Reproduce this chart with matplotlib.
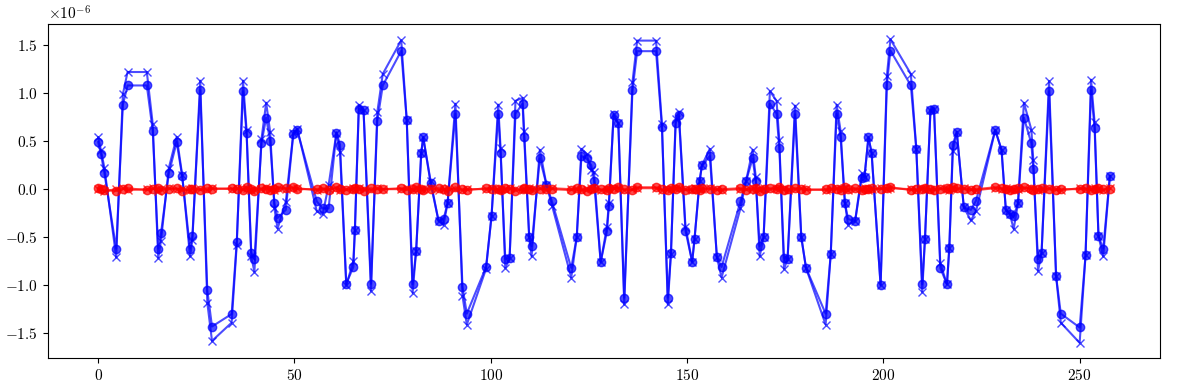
import matplotlib
matplotlib.use("Agg")
import matplotlib.pyplot as plt
import numpy as np

plt.rcParams["font.family"] = "serif"
plt.rcParams["font.serif"] = ["cmr10"]
plt.rcParams["mathtext.fontset"] = "cm"
plt.rcParams["axes.formatter.use_mathtext"] = True
plt.rcParams["font.size"] = 11

# sample positions
x = [0.0, 0.7, 1.6, 4.6, 6.3, 7.5, 12.4, 13.9, 15.3, 16.0,
     18.0, 20.0, 21.4, 23.4, 24.0, 26.0, 27.8, 29.0, 34.0, 35.3,
     36.9, 37.8, 39.0, 39.8, 41.6, 42.8, 43.8, 44.9, 45.7, 47.8,
     49.7, 50.7, 55.7, 57.2, 58.7, 60.7, 61.6, 63.2, 65.0, 65.4,
     66.4, 67.6, 69.5, 71.1, 72.5, 77.2, 78.6, 80.1, 81.0, 82.3,
     82.8, 84.7, 86.7, 88.0, 89.0, 91.0, 92.8, 93.9, 98.8, 100.2,
     101.9, 102.5, 103.7, 104.8, 106.3, 108.1, 108.5, 109.8, 110.4, 112.5,
     114.2, 115.6, 120.5, 121.9, 123.1, 124.4, 125.6, 126.3, 128.0, 129.6,
     130.1, 131.3, 132.5, 134.0, 136.1, 137.3, 142.1, 143.6, 145.1, 145.9,
     147.1, 147.9, 149.6, 151.3, 151.9, 153.2, 153.8, 155.8, 157.6, 158.8,
     163.6, 165.0, 166.7, 167.5, 168.5, 169.5, 171.1, 172.8, 173.5, 174.7,
     175.6, 177.5, 179.1, 180.3, 185.3, 186.6, 188.1, 189.1, 190.2, 191.0,
     192.8, 194.5, 195.2, 196.2, 197.0, 199.3, 200.9, 201.8, 207.0, 208.4,
     209.9, 210.6, 212.0, 212.9, 214.5, 216.2, 216.8, 217.7, 218.7, 220.5,
     222.3, 223.6, 228.5, 230.1, 231.2, 232.2, 233.2, 234.3, 235.8, 237.7,
     238.2, 239.4, 240.3, 242.2, 244.0, 245.2, 250.0, 251.5, 252.9, 253.8,
     254.8, 256.0, 257.7]

# blue, circles (units of 1e-6)
blue_o = [0.49, 0.37, 0.165, -0.62, 0.88, 1.08, 1.08, 0.61, -0.62, -0.46,
          0.165, 0.49, 0.135, -0.62, -0.49, 1.03, -1.05, -1.43, -1.30, -0.55,
          1.02, 0.58, -0.66, -0.73, 0.48, 0.745, 0.50, -0.146, -0.30, -0.215,
          0.57, 0.615, -0.128, -0.20, -0.20, 0.59, 0.465, -0.985, -0.81, -0.42,
          0.84, 0.82, -0.985, 0.71, 1.08, 1.44, 0.72, -0.99, -0.64, 0.38,
          0.54, 0.06, -0.33, -0.31, -0.146, 0.787, -1.015, -1.296, -0.81, -0.28,
          0.78, 0.38, -0.726, -0.715, 0.787, 0.89, 0.545, -0.50, -0.595, 0.32,
          0.045, -0.128, -0.82, -0.50, 0.345, 0.32, 0.25, 0.09, -0.76, -0.44,
          -0.17, 0.777, 0.684, -1.13, 1.03, 1.437, 1.437, 0.649, -1.13, -0.664,
          0.684, 0.777, -0.432, -0.757, -0.52, 0.086, 0.25, 0.345, -0.71, -0.81,
          -0.128, 0.08, 0.32, 0.086, -0.595, -0.497, 0.89, 0.787, 0.425, -0.715,
          -0.73, 0.78, -0.50, -0.82, -1.296, -0.675, 0.787, 0.545, -0.14, -0.31,
          -0.335, 0.12, 0.13, 0.54, 0.38, -0.999, 1.087, 1.443, 1.08, 0.416,
          -0.99, -0.52, 0.82, 0.84, -0.82, -0.99, -0.612, 0.465, 0.597, -0.19,
          -0.215, -0.12, 0.615, 0.41, -0.215, -0.256, -0.283, -0.146, 0.745, 0.476,
          0.207, -0.73, -0.664, 1.02, -0.905, -1.296, -1.44, -0.69, 1.03, 0.639,
          -0.49, -0.62, 0.138]

# blue, crosses
blue_x = [0.54, 0.41, 0.22, -0.71, 0.99, 1.22, 1.22, 0.68, -0.715, -0.54,
          0.22, 0.545, 0.15, -0.70, -0.53, 1.13, -1.18, -1.58, -1.39, -0.58,
          1.13, 0.62, -0.70, -0.86, 0.52, 0.90, 0.60, -0.20, -0.41, -0.13,
          0.58, 0.63, -0.23, -0.26, 0.04, 0.59, 0.39, -1.0, -0.75, -0.42,
          0.88, 0.82, -1.06, 0.80, 1.20, 1.55, 0.72, -1.08, -0.64, 0.38,
          0.54, 0.08, -0.33, -0.37, -0.146, 0.89, -1.11, -1.41, -0.83, -0.28,
          0.88, 0.43, -0.82, -0.72, 0.92, 0.95, 0.61, -0.50, -0.70, 0.41,
          0.045, -0.17, -0.92, -0.50, 0.42, 0.37, 0.20, 0.18, -0.76, -0.39,
          -0.14, 0.78, 0.684, -1.2, 1.115, 1.547, 1.547, 0.68, -1.2, -0.67,
          0.73, 0.80, -0.39, -0.757, -0.52, 0.086, 0.25, 0.42, -0.71, -0.92,
          -0.2, 0.08, 0.41, 0.13, -0.70, -0.497, 1.02, 0.92, 0.51, -0.83,
          -0.73, 0.87, -0.50, -0.82, -1.41, -0.675, 0.88, 0.61, -0.14, -0.37,
          -0.335, 0.165, 0.13, 0.54, 0.38, -0.999, 1.18, 1.56, 1.20, 0.416,
          -1.07, -0.52, 0.82, 0.84, -0.77, -0.99, -0.612, 0.40, 0.597, -0.19,
          -0.325, -0.23, 0.615, 0.41, -0.215, -0.256, -0.415, -0.146, 0.90, 0.62,
          0.30, -0.85, -0.664, 1.126, -0.905, -1.39, -1.60, -0.69, 1.14, 0.70,
          -0.49, -0.70, 0.138]

# red, near zero
red_o = [0.01, 0.0, -0.01, -0.02, 0.0, 0.01, -0.01, 0.0, 0.01, -0.01,
         0.0, 0.01, -0.02, 0.0, 0.0, -0.01, 0.01, 0.0, 0.01, 0.0,
         -0.01, 0.02, 0.0, -0.02, 0.01, 0.0, -0.01, 0.0, 0.02, 0.01,
         0.02, 0.0, 0.0, 0.01, -0.01, 0.02, 0.0, -0.01, 0.0, 0.01,
         0.0, -0.02, 0.01, 0.0, 0.0, 0.01, -0.01, 0.0, 0.02, 0.0,
         -0.01, 0.0, 0.01, 0.0, -0.02, 0.02, 0.0, -0.01, 0.01, 0.0,
         0.0, -0.01, 0.01, 0.0, -0.02, 0.0, 0.01, 0.0, -0.01, 0.0,
         0.0, 0.0, -0.01, 0.01, 0.0, -0.02, 0.0, 0.01, 0.0, -0.01,
         0.01, 0.0, 0.02, 0.0, -0.01, 0.02, 0.02, 0.0, -0.01, 0.01,
         0.0, 0.02, -0.01, 0.0, 0.0, -0.01, 0.01, 0.0, -0.01, 0.0,
         0.01, -0.01, 0.0, 0.01, -0.02, 0.0, 0.01, 0.0, 0.02, -0.01,
         0.0, 0.01, 0.0, -0.01, 0.0, 0.01, 0.0, -0.01, 0.02, 0.0,
         0.01, -0.01, 0.0, 0.0, 0.01, 0.0, 0.01, 0.02, -0.01, 0.0,
         0.0, 0.01, 0.0, -0.01, 0.0, 0.01, 0.0, 0.02, 0.01, 0.0,
         -0.01, 0.0, 0.02, 0.01, 0.0, -0.01, 0.0, 0.01, 0.02, 0.0,
         -0.01, 0.0, 0.01, 0.0, -0.01, 0.0, 0.0, 0.01, -0.01, 0.0,
         0.01, 0.0, 0.0]

red_x = [0.0, 0.01, -0.02, 0.0, 0.01, -0.01, 0.0, 0.01, -0.02, 0.0,
         0.01, 0.0, 0.0, -0.01, 0.01, 0.0, -0.01, 0.01, 0.0, 0.01,
         0.0, 0.01, -0.01, 0.0, 0.0, 0.02, 0.0, -0.01, 0.01, 0.0,
         0.01, 0.01, -0.01, 0.0, 0.0, 0.01, -0.01, 0.0, 0.01, 0.0,
         0.01, 0.0, -0.01, 0.01, 0.0, 0.0, 0.01, -0.01, 0.01, 0.0,
         0.0, 0.01, -0.01, 0.0, 0.01, 0.0, -0.01, 0.0, 0.0, 0.01,
         -0.01, 0.0, 0.0, 0.01, 0.0, -0.01, 0.0, 0.01, 0.0, 0.01,
         -0.01, 0.01, 0.0, 0.0, -0.01, 0.0, 0.01, 0.0, -0.01, 0.0,
         0.0, 0.01, 0.01, -0.01, 0.0, 0.01, 0.01, -0.01, 0.0, 0.0,
         0.01, 0.01, 0.0, -0.01, 0.01, 0.0, 0.0, 0.01, 0.0, -0.01,
         0.0, 0.0, 0.01, -0.01, 0.0, 0.01, 0.0, 0.01, 0.0, 0.0,
         -0.01, 0.0, 0.01, 0.0, -0.01, 0.0, 0.01, 0.0, 0.01, -0.01,
         0.0, 0.0, 0.01, -0.01, 0.0, 0.01, 0.0, 0.01, 0.0, -0.01,
         0.01, 0.0, -0.01, 0.0, 0.01, 0.0, -0.01, 0.01, 0.0, 0.01,
         0.0, -0.01, 0.01, 0.0, 0.01, 0.0, -0.01, 0.0, 0.01, 0.01,
         0.0, -0.01, 0.0, 0.01, 0.0, -0.01, 0.01, 0.0, 0.0, 0.01,
         0.0, -0.01, 0.01]

scale = 1e-6

fig, ax = plt.subplots(figsize=(11.89, 3.9), dpi=100)
ax.plot(x, np.array(blue_x) * scale, "bx-", alpha=0.7)
ax.plot(x, np.array(blue_o) * scale, "bo-", alpha=0.7)
ax.plot(x, np.array(red_x) * scale, "rx-", alpha=0.7)
ax.plot(x, np.array(red_o) * scale, "ro-", alpha=0.7)

fig.subplots_adjust(left=0.040, right=0.976, top=0.938, bottom=0.082)
fig.savefig("out.png")
